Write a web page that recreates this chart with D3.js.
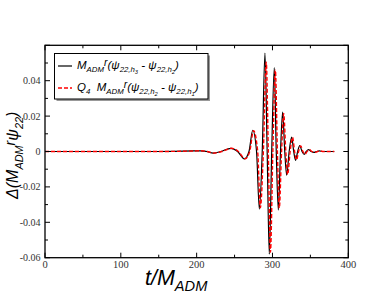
<!DOCTYPE html>
<html>
<head>
<meta charset="utf-8">
<script src="https://cdn.jsdelivr.net/npm/d3@7"></script>
<style>
  body { margin: 0; background: #fff; }
  svg { display: block; }
</style>
</head>
<body>
<svg width="392" height="303"></svg>
<script>
// waveform difference (extrema + zero crossings)
var tBlack = [0, 150, 196, 205, 213, 222, 232, 245, 254, 263, 269, 274, 279, 282.7, 286.5, 290.1, 293, 295.8, 299, 302.4, 305, 307.7, 310.6, 313.4, 316.2, 318.7, 322, 325.3, 328, 330.5, 333.2, 336, 339, 341.8, 344.5, 347.5, 351, 355, 358.5, 362, 366, 381.5];
var yBlack = [0, 0, 0.0003, 0.0004, 0, -0.0009, 0, 0.0018, 0, -0.0042, 0, 0.012, 0, -0.0325, 0, 0.0556, 0, -0.058, 0, 0.0474, 0, -0.0331, 0, 0.0223, 0, -0.0134, 0, 0.0082, 0, -0.005, 0, 0.0033, 0, -0.0016, 0, 0.0011, 0, -0.0005, 0, 0.0003, 0, 0];

var tRed = [0, 150, 197, 206, 214, 223, 233, 246, 255, 264, 270, 275, 280.5, 284, 288, 291.8, 294.5, 297.3, 300.5, 303.8, 306.5, 309, 312, 314.8, 317.6, 320, 323.3, 326.5, 329.2, 331.7, 334.4, 337.2, 340.2, 343, 345.7, 348.7, 352, 356, 359.5, 363, 367, 381.5];
var yRed = [0, 0, 0.0003, 0.0004, 0, -0.0009, 0, 0.0018, 0, -0.0041, 0, 0.0118, 0, -0.0318, 0, 0.0505, 0, -0.057, 0, 0.046, 0, -0.032, 0, 0.0215, 0, -0.013, 0, 0.008, 0, -0.0048, 0, 0.0032, 0, -0.0015, 0, 0.001, 0, -0.0005, 0, 0.0003, 0, 0];

var xMajor = [0, 100, 200, 300, 400];
var xMinor = [50, 150, 250, 350];
var yMajor = [-0.06, -0.04, -0.02, 0, 0.02, 0.04, 0.06];
var yMinor = [-0.05, -0.03, -0.01, 0.01, 0.03, 0.05];
var yLabels = ["-0.06", "-0.04", "-0.02", "0", "0.02", "0.04"];
var xLabels = ["0", "100", "200", "300", "400"];

var svg = d3.select('svg');

var pL = 45, pR = 348.3, pT = 45.3, pB = 257.7;

var scaleX = d3.scaleLinear().domain([0, 400]).range([pL, pR]);
var scaleY = d3.scaleLinear().domain([-0.06, 0.06]).range([pB, pT]);

function zip(ts, ys) {
    return ts.map(function(t, i){ return [t, ys[i]]; });
}

var line = d3.line()
    .x(function(d){ return scaleX(d[0]); })
    .y(function(d){ return scaleY(d[1]); })
    .curve(d3.curveMonotoneX);

var plot = svg.append('g');

plot.append('path')
    .attr('d', line(zip(tBlack, yBlack)))
    .attr('fill', 'none')
    .attr('stroke', '#000')
    .attr('stroke-width', 1.2);

plot.append('path')
    .attr('d', line(zip(tRed, yRed)))
    .attr('fill', 'none')
    .attr('stroke', '#ff0000')
    .attr('stroke-width', 1.4)
    .attr('stroke-dasharray', '4,2');

// frame
svg.append('rect')
    .attr('x', pL).attr('y', pT)
    .attr('width', pR - pL).attr('height', pB - pT)
    .attr('fill', 'none').attr('stroke', '#000').attr('stroke-width', 1.3);

// ticks pointing inward on all four sides
var ticks = svg.append('g').attr('stroke', '#000').attr('stroke-width', 1);
function xTicks(vals, len) {
    vals.forEach(function(v){
        var x = scaleX(v);
        ticks.append('line').attr('x1', x).attr('x2', x).attr('y1', pB).attr('y2', pB - len);
        ticks.append('line').attr('x1', x).attr('x2', x).attr('y1', pT).attr('y2', pT + len);
    });
}
function yTicks(vals, len) {
    vals.forEach(function(v){
        var y = scaleY(v);
        ticks.append('line').attr('x1', pL).attr('x2', pL + len).attr('y1', y).attr('y2', y);
        ticks.append('line').attr('x1', pR).attr('x2', pR - len).attr('y1', y).attr('y2', y);
    });
}
xTicks(xMajor, 5); xTicks(xMinor, 3);
yTicks(yMajor, 5); yTicks(yMinor, 3);

// tick labels
svg.selectAll('.xl').data(xMajor).enter().append('text')
    .attr('x', function(d){ return scaleX(d); })
    .attr('y', 267.5)
    .attr('text-anchor', 'middle')
    .attr('font-family', 'Liberation Serif, serif')
    .attr('font-size', 10.5)
    .attr('fill', '#333')
    .text(function(d, i){ return xLabels[i]; });

svg.selectAll('.yl').data(yLabels).enter().append('text')
    .attr('x', 40.5)
    .attr('y', function(d, i){ return scaleY(yMajor[i]) + 3.5; })
    .attr('text-anchor', 'end')
    .attr('font-family', 'Liberation Serif, serif')
    .attr('font-size', 10)
    .attr('fill', '#333')
    .text(function(d){ return d; });

// rich text helper: segments of [text, level]; -1 raised, 1 sub, 2 sub-sub
function rich(sel, segs, size) {
    var sizes = {'-1': size * 0.9, 0: size, 1: size * 0.68, 2: size * 0.5};
    var shift = {'-1': -size * 0.2, 0: 0, 1: size * 0.3, 2: size * 0.5};
    var lvl = 0;
    segs.forEach(function(s){
        var l = s[1];
        sel.append('tspan')
            .attr('dy', shift[l] - shift[lvl])
            .attr('font-size', sizes[l])
            .text(s[0]);
        lvl = l;
    });
}

// axis titles
var xt = svg.append('text')
    .attr('x', 145).attr('y', 285)
    .attr('font-family', 'Liberation Sans, Arial, sans-serif')
    .attr('font-style', 'italic');
rich(xt, [['t/M', 0], ['ADM', 1]], 21.5);

var yt = svg.append('text')
    .attr('transform', 'translate(18,199) rotate(-90)')
    .attr('font-family', 'Liberation Sans, Arial, sans-serif')
    .attr('font-style', 'italic');
rich(yt, [['\u0394(M', 0], ['ADM', 1], ['r', -1], ['\u03c8', 0], ['22', 1], [')', 0]], 16);

// legend
var lg = svg.append('g');
lg.append('rect').attr('x', 56.5).attr('y', 55.5).attr('width', 153.5).attr('height', 45.5).attr('fill', '#999');
lg.append('rect').attr('x', 54.5).attr('y', 53.5).attr('width', 153.5).attr('height', 45.5)
    .attr('fill', '#fff').attr('stroke', '#000').attr('stroke-width', 1);
lg.append('line').attr('x1', 58).attr('x2', 72).attr('y1', 66).attr('y2', 66)
    .attr('stroke', '#000').attr('stroke-width', 1.2);
lg.append('line').attr('x1', 58).attr('x2', 72).attr('y1', 88).attr('y2', 88)
    .attr('stroke', '#ff0000').attr('stroke-width', 1.4).attr('stroke-dasharray', '4,2');

var l1 = lg.append('text').attr('x', 77).attr('y', 68.5)
    .attr('font-family', 'Liberation Sans, Arial, sans-serif').attr('font-style', 'italic');
rich(l1, [['M', 0], ['ADM', 1], ['r', -1], ['(\u03c8', 0], ['22,h', 1], ['3', 2], [' - \u03c8', 0], ['22,h', 1], ['2', 2], [')', 0]], 11.5);

var l2 = lg.append('text').attr('x', 77).attr('y', 90.5)
    .attr('font-family', 'Liberation Sans, Arial, sans-serif').attr('font-style', 'italic');
rich(l2, [['Q', 0], ['4', 1], ['\u00a0\u00a0M', 0], ['ADM', 1], ['r', -1], ['(\u03c8', 0], ['22,h', 1], ['2', 2], [' - \u03c8', 0], ['22,h', 1], ['1', 2], [')', 0]], 11.5);
</script>
</body>
</html>
